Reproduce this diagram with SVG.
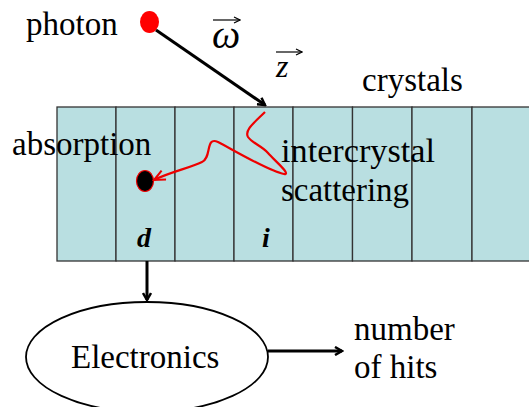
<svg xmlns="http://www.w3.org/2000/svg" width="529" height="407" viewBox="0 0 529 407">
<style>
text{font-family:"Liberation Serif","Times New Roman",serif;fill:#000}
.t{font-size:33px}
.cell{fill:#b9dfe1;stroke:#333;stroke-width:1.3}
.blk{fill:none;stroke:#000;stroke-width:3}
.vec{fill:none;stroke:#000;stroke-width:1.2}
</style>
<defs>
<marker id="ah" markerWidth="10" markerHeight="10" refX="8" refY="5" orient="auto" markerUnits="userSpaceOnUse" viewBox="0 0 10 10">
<polyline points="1,1 8,5 1,9" fill="none" stroke="#000" stroke-width="2.5"/>
</marker>
<marker id="ahr" markerWidth="14" markerHeight="12" refX="12" refY="6" orient="auto" markerUnits="userSpaceOnUse" viewBox="0 0 14 12">
<polyline points="1,1 12,6 1,11" fill="none" stroke="#e00" stroke-width="2"/>
</marker>
<marker id="av" markerWidth="8" markerHeight="8" refX="7" refY="4" orient="auto" markerUnits="userSpaceOnUse" viewBox="0 0 8 8">
<polyline points="1,1 7,4 1,7" fill="none" stroke="#000" stroke-width="1.2"/>
</marker>
</defs>
<g id="crystals">
<rect class="cell" x="57" y="107" width="59" height="154"/>
<rect class="cell" x="116" y="107" width="59" height="154"/>
<rect class="cell" x="175" y="107" width="59" height="154"/>
<rect class="cell" x="234" y="107" width="59" height="154"/>
<rect class="cell" x="293" y="107" width="59.5" height="154"/>
<rect class="cell" x="352.5" y="107" width="59.5" height="154"/>
<rect class="cell" x="412" y="107" width="60" height="154"/>
<rect class="cell" x="472" y="107" width="60" height="154"/>
</g>
<g id="labels">
<text class="t" x="26" y="35">photon</text>
<text class="t" x="362" y="91">crystals</text>
<text class="t" x="12" y="155">absorption</text>
<text class="t" x="281" y="162" textLength="154" lengthAdjust="spacingAndGlyphs">intercrystal</text>
<text class="t" x="281" y="201" textLength="128" lengthAdjust="spacingAndGlyphs">scattering</text>
<text x="137" y="247" font-size="28" font-weight="bold" font-style="italic">d</text>
<text x="262" y="247" font-size="28" font-weight="bold" font-style="italic">i</text>
<text x="354" y="340" class="t">number</text>
<text x="354" y="378" class="t">of hits</text>
</g>
<g id="omega">
<text x="212" y="48" font-size="40" font-style="italic">ω</text>
<line class="vec" x1="213" y1="20" x2="240" y2="20" marker-end="url(#av)"/>
</g>
<g id="zvec">
<text x="276" y="77" font-size="32" font-style="italic">z</text>
<line class="vec" x1="276" y1="52" x2="302" y2="52" marker-end="url(#av)"/>
</g>
<g id="photon">
<ellipse cx="149.5" cy="22" rx="9.5" ry="11" fill="#f00"/>
</g>
<g id="absorption-dot">
<ellipse cx="145" cy="181" rx="8.5" ry="10.5" fill="#000" stroke="#e00" stroke-width="1.2"/>
</g>
<g id="electronics">
<ellipse cx="147" cy="357" rx="121" ry="55" fill="#fff" stroke="#000" stroke-width="1.8"/>
<text class="t" x="71" y="368">Electronics</text>
</g>
<g id="connectors">
<line class="blk" x1="156" y1="30" x2="265" y2="105" marker-end="url(#ah)"/>
<path d="M265,112 C255,122 244,130 248,137 C252,143 262,146 268,153 C274,160 292,175 284,174 C270,172 230,148 218,142 C205,136 212,158 202,162 C190,168 170,172 154,180" fill="none" stroke="#e00" stroke-width="2.2" marker-end="url(#ahr)"/>
<line class="blk" x1="147" y1="261" x2="147" y2="300" marker-end="url(#ah)"/>
<line class="blk" x1="268" y1="351" x2="342" y2="351" marker-end="url(#ah)"/>
</g>
</svg>
